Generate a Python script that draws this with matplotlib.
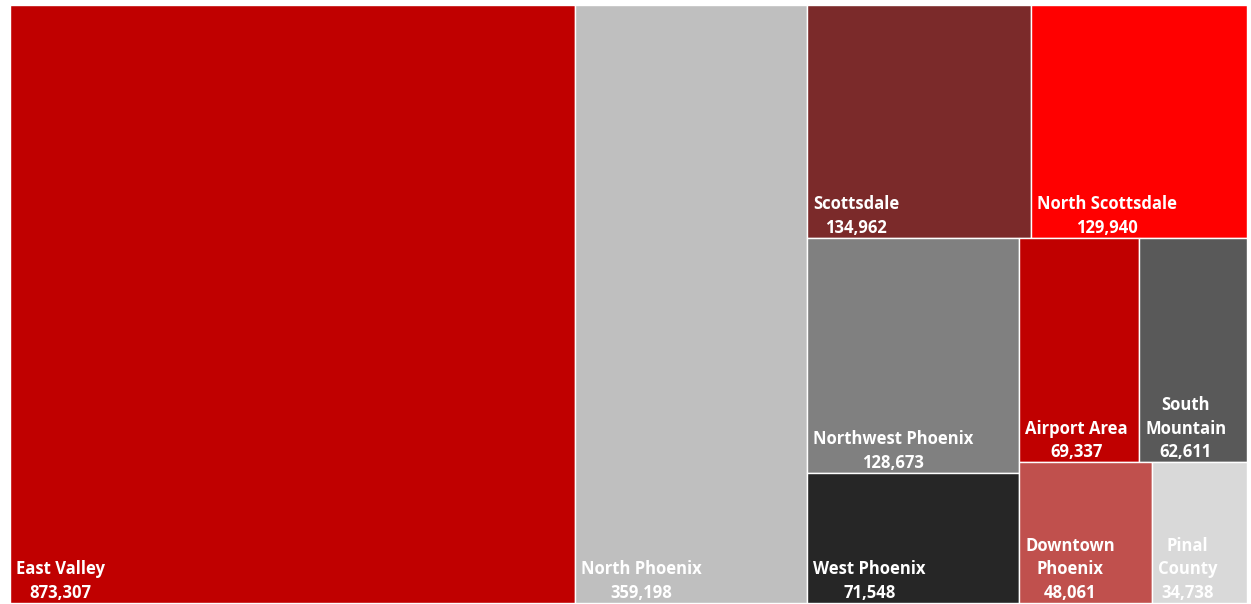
import matplotlib.pyplot as plt
from matplotlib.patches import Rectangle

# Data
regions = ["East Valley", "North Phoenix", "Scottsdale", "North Scottsdale",
           "Northwest Phoenix", "West Phoenix", "Airport Area", "South Mountain",
           "Downtown Phoenix", "Pinal County"]
counts = [873307, 359198, 134962, 129940, 128673, 71548, 69337, 62611, 48061, 34738]
colors = ["#C00000", "#BFBFBF", "#7B2A2A", "#FF0000", "#808080",
          "#262626", "#C00000", "#595959", "#C0504D", "#D9D9D9"]

# strips: "col" = strip cut from the left, items stacked top->bottom
#         "row" = strip cut from the top, items side by side
strips = [("col", 1), ("col", 1), ("row", 2), ("col", 2), ("row", 2), ("row", 2)]

W, H = 1237.0, 598.0  # axes size in pixels, so areas stay proportional


def layout(values, strips, W, H):
    scale = W * H / sum(values)
    x, y, w, h = 0.0, 0.0, W, H
    rects = []
    i = 0
    for kind, n in strips:
        grp = values[i:i + n]
        area = sum(grp) * scale
        if kind == "col":
            sw = area / h
            yy = y
            for v in grp:
                hh = v * scale / sw
                rects.append((x, yy, sw, hh))
                yy += hh
            x += sw
            w -= sw
        else:
            sh = area / w
            xx = x
            for v in grp:
                ww = v * scale / sh
                rects.append((xx, y, ww, sh))
                xx += ww
            y += sh
            h -= sh
        i += n
    return rects


rects = layout(counts, strips, W, H)

fig = plt.figure(figsize=(12.51, 6.04), dpi=100)
ax = fig.add_axes([10 / 1251, 1 / 604, 1237 / 1251, 598 / 604])
ax.set_xlim(0, W)
ax.set_ylim(H, 0)
ax.axis("off")

renderer = fig.canvas.get_renderer()
pad = 6
for name, val, col, (rx, ry, rw, rh) in zip(regions, counts, colors, rects):
    ax.add_patch(Rectangle((rx, ry), rw, rh, facecolor=col, edgecolor="white", linewidth=1))
    label = name + "\n" + f"{val:,}"
    t = ax.text(rx + pad, ry + rh - 1, label, ha="left", va="bottom",
                multialignment="center", color="white", fontsize=12,
                fontweight="bold", family="Open Sans", linespacing=1.4)
    if t.get_window_extent(renderer).width > rw - 2 * pad:
        t.set_text(name.replace(" ", "\n") + "\n" + f"{val:,}")

fig.savefig("out.png", dpi=100)
